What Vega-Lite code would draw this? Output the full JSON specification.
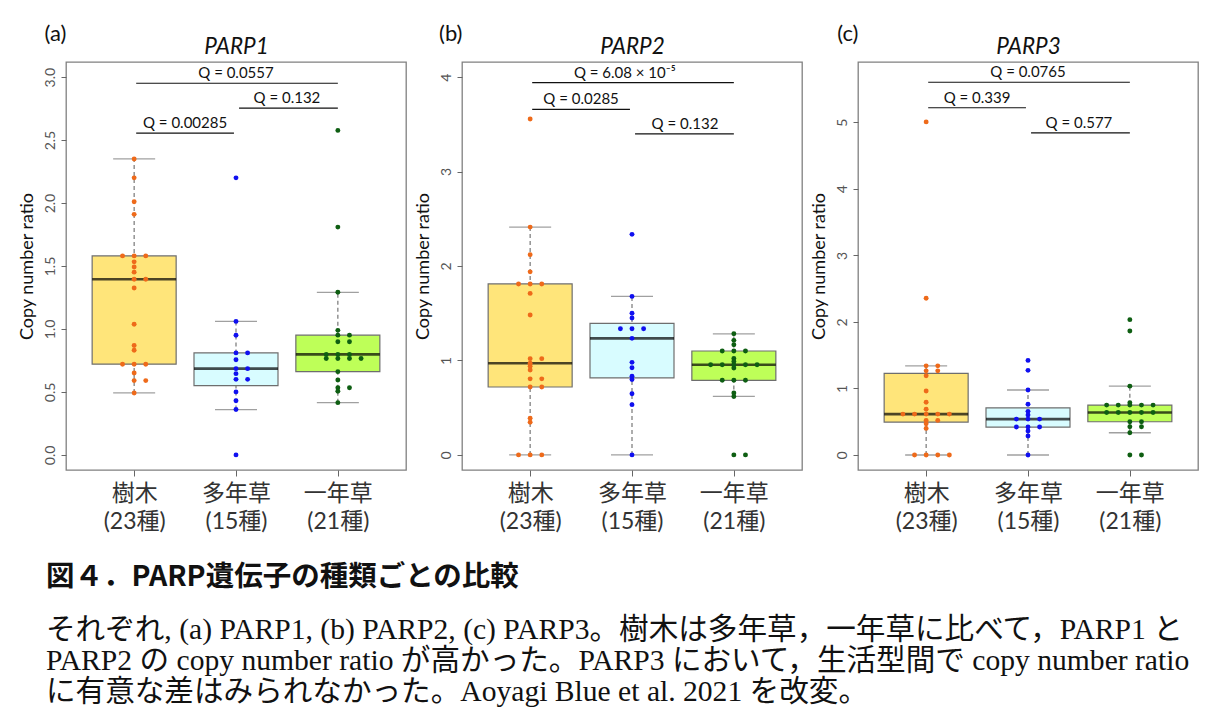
{
"$schema": "https://vega.github.io/schema/vega-lite/v6.json",
"background": "white",
"padding": {"left": 17, "top": 21, "right": 5, "bottom": 5},
"datasets": {
"pts": [
{"panel":"a","group":"樹木","gi":1,"value":2.35},{"panel":"a","group":"樹木","gi":1,"value":2.2},{"panel":"a","group":"樹木","gi":1,"value":2.01},{"panel":"a","group":"樹木","gi":1,"value":1.91},{"panel":"a","group":"樹木","gi":1,"value":1.58},{"panel":"a","group":"樹木","gi":1,"value":1.58},{"panel":"a","group":"樹木","gi":1,"value":1.58},{"panel":"a","group":"樹木","gi":1,"value":1.533},{"panel":"a","group":"樹木","gi":1,"value":1.492},{"panel":"a","group":"樹木","gi":1,"value":1.451},{"panel":"a","group":"樹木","gi":1,"value":1.395},{"panel":"a","group":"樹木","gi":1,"value":1.395},{"panel":"a","group":"樹木","gi":1,"value":1.325},{"panel":"a","group":"樹木","gi":1,"value":1.038},{"panel":"a","group":"樹木","gi":1,"value":0.869},{"panel":"a","group":"樹木","gi":1,"value":0.831},{"panel":"a","group":"樹木","gi":1,"value":0.72},{"panel":"a","group":"樹木","gi":1,"value":0.72},{"panel":"a","group":"樹木","gi":1,"value":0.72},{"panel":"a","group":"樹木","gi":1,"value":0.65},{"panel":"a","group":"樹木","gi":1,"value":0.59},{"panel":"a","group":"樹木","gi":1,"value":0.59},{"panel":"a","group":"樹木","gi":1,"value":0.492},
{"panel":"a","group":"多年草","gi":2,"value":2.2},{"panel":"a","group":"多年草","gi":2,"value":1.06},{"panel":"a","group":"多年草","gi":2,"value":0.95},{"panel":"a","group":"多年草","gi":2,"value":0.81},{"panel":"a","group":"多年草","gi":2,"value":0.81},{"panel":"a","group":"多年草","gi":2,"value":0.755},{"panel":"a","group":"多年草","gi":2,"value":0.685},{"panel":"a","group":"多年草","gi":2,"value":0.685},{"panel":"a","group":"多年草","gi":2,"value":0.645},{"panel":"a","group":"多年草","gi":2,"value":0.6},{"panel":"a","group":"多年草","gi":2,"value":0.6},{"panel":"a","group":"多年草","gi":2,"value":0.5},{"panel":"a","group":"多年草","gi":2,"value":0.43},{"panel":"a","group":"多年草","gi":2,"value":0.36},{"panel":"a","group":"多年草","gi":2,"value":0},
{"panel":"a","group":"一年草","gi":3,"value":2.577},{"panel":"a","group":"一年草","gi":3,"value":1.809},{"panel":"a","group":"一年草","gi":3,"value":1.291},{"panel":"a","group":"一年草","gi":3,"value":0.989},{"panel":"a","group":"一年草","gi":3,"value":0.951},{"panel":"a","group":"一年草","gi":3,"value":0.951},{"panel":"a","group":"一年草","gi":3,"value":0.898},{"panel":"a","group":"一年草","gi":3,"value":0.898},{"panel":"a","group":"一年草","gi":3,"value":0.798},{"panel":"a","group":"一年草","gi":3,"value":0.798},{"panel":"a","group":"一年草","gi":3,"value":0.798},{"panel":"a","group":"一年草","gi":3,"value":0.766},{"panel":"a","group":"一年草","gi":3,"value":0.766},{"panel":"a","group":"一年草","gi":3,"value":0.766},{"panel":"a","group":"一年草","gi":3,"value":0.766},{"panel":"a","group":"一年草","gi":3,"value":0.661},{"panel":"a","group":"一年草","gi":3,"value":0.595},{"panel":"a","group":"一年草","gi":3,"value":0.533},{"panel":"a","group":"一年草","gi":3,"value":0.533},{"panel":"a","group":"一年草","gi":3,"value":0.505},{"panel":"a","group":"一年草","gi":3,"value":0.415},
{"panel":"b","group":"樹木","gi":1,"value":3.556},{"panel":"b","group":"樹木","gi":1,"value":2.412},{"panel":"b","group":"樹木","gi":1,"value":2.12},{"panel":"b","group":"樹木","gi":1,"value":1.938},{"panel":"b","group":"樹木","gi":1,"value":1.81},{"panel":"b","group":"樹木","gi":1,"value":1.81},{"panel":"b","group":"樹木","gi":1,"value":1.81},{"panel":"b","group":"樹木","gi":1,"value":1.71},{"panel":"b","group":"樹木","gi":1,"value":1.481},{"panel":"b","group":"樹木","gi":1,"value":1.019},{"panel":"b","group":"樹木","gi":1,"value":1.019},{"panel":"b","group":"樹木","gi":1,"value":0.97},{"panel":"b","group":"樹木","gi":1,"value":0.938},{"panel":"b","group":"樹木","gi":1,"value":0.899},{"panel":"b","group":"樹木","gi":1,"value":0.805},{"panel":"b","group":"樹木","gi":1,"value":0.805},{"panel":"b","group":"樹木","gi":1,"value":0.719},{"panel":"b","group":"樹木","gi":1,"value":0.719},{"panel":"b","group":"樹木","gi":1,"value":0.388},{"panel":"b","group":"樹木","gi":1,"value":0.346},{"panel":"b","group":"樹木","gi":1,"value":0},{"panel":"b","group":"樹木","gi":1,"value":0},{"panel":"b","group":"樹木","gi":1,"value":0},
{"panel":"b","group":"多年草","gi":2,"value":2.335},{"panel":"b","group":"多年草","gi":2,"value":1.678},{"panel":"b","group":"多年草","gi":2,"value":1.5},{"panel":"b","group":"多年草","gi":2,"value":1.45},{"panel":"b","group":"多年草","gi":2,"value":1.335},{"panel":"b","group":"多年草","gi":2,"value":1.335},{"panel":"b","group":"多年草","gi":2,"value":1.335},{"panel":"b","group":"多年草","gi":2,"value":1.234},{"panel":"b","group":"多年草","gi":2,"value":0.98},{"panel":"b","group":"多年草","gi":2,"value":0.923},{"panel":"b","group":"多年草","gi":2,"value":0.832},{"panel":"b","group":"多年草","gi":2,"value":0.797},{"panel":"b","group":"多年草","gi":2,"value":0.648},{"panel":"b","group":"多年草","gi":2,"value":0.532},{"panel":"b","group":"多年草","gi":2,"value":0},
{"panel":"b","group":"一年草","gi":3,"value":1.282},{"panel":"b","group":"一年草","gi":3,"value":1.213},{"panel":"b","group":"一年草","gi":3,"value":1.166},{"panel":"b","group":"一年草","gi":3,"value":1.1},{"panel":"b","group":"一年草","gi":3,"value":1.1},{"panel":"b","group":"一年草","gi":3,"value":1.1},{"panel":"b","group":"一年草","gi":3,"value":1.02},{"panel":"b","group":"一年草","gi":3,"value":0.99},{"panel":"b","group":"一年草","gi":3,"value":0.955},{"panel":"b","group":"一年草","gi":3,"value":0.955},{"panel":"b","group":"一年草","gi":3,"value":0.955},{"panel":"b","group":"一年草","gi":3,"value":0.955},{"panel":"b","group":"一年草","gi":3,"value":0.955},{"panel":"b","group":"一年草","gi":3,"value":0.92},{"panel":"b","group":"一年草","gi":3,"value":0.79},{"panel":"b","group":"一年草","gi":3,"value":0.79},{"panel":"b","group":"一年草","gi":3,"value":0.79},{"panel":"b","group":"一年草","gi":3,"value":0.656},{"panel":"b","group":"一年草","gi":3,"value":0.619},{"panel":"b","group":"一年草","gi":3,"value":0},{"panel":"b","group":"一年草","gi":3,"value":0},
{"panel":"c","group":"樹木","gi":1,"value":5.005},{"panel":"c","group":"樹木","gi":1,"value":2.355},{"panel":"c","group":"樹木","gi":1,"value":1.34},{"panel":"c","group":"樹木","gi":1,"value":1.34},{"panel":"c","group":"樹木","gi":1,"value":1.265},{"panel":"c","group":"樹木","gi":1,"value":1.265},{"panel":"c","group":"樹木","gi":1,"value":1.19},{"panel":"c","group":"樹木","gi":1,"value":0.963},{"panel":"c","group":"樹木","gi":1,"value":0.792},{"panel":"c","group":"樹木","gi":1,"value":0.688},{"panel":"c","group":"樹木","gi":1,"value":0.615},{"panel":"c","group":"樹木","gi":1,"value":0.615},{"panel":"c","group":"樹木","gi":1,"value":0.615},{"panel":"c","group":"樹木","gi":1,"value":0.615},{"panel":"c","group":"樹木","gi":1,"value":0.615},{"panel":"c","group":"樹木","gi":1,"value":0.52},{"panel":"c","group":"樹木","gi":1,"value":0.52},{"panel":"c","group":"樹木","gi":1,"value":0.47},{"panel":"c","group":"樹木","gi":1,"value":0.4},{"panel":"c","group":"樹木","gi":1,"value":0},{"panel":"c","group":"樹木","gi":1,"value":0},{"panel":"c","group":"樹木","gi":1,"value":0},{"panel":"c","group":"樹木","gi":1,"value":0},
{"panel":"c","group":"多年草","gi":2,"value":1.422},{"panel":"c","group":"多年草","gi":2,"value":1.272},{"panel":"c","group":"多年草","gi":2,"value":0.977},{"panel":"c","group":"多年草","gi":2,"value":0.762},{"panel":"c","group":"多年草","gi":2,"value":0.656},{"panel":"c","group":"多年草","gi":2,"value":0.601},{"panel":"c","group":"多年草","gi":2,"value":0.54},{"panel":"c","group":"多年草","gi":2,"value":0.54},{"panel":"c","group":"多年草","gi":2,"value":0.54},{"panel":"c","group":"多年草","gi":2,"value":0.42},{"panel":"c","group":"多年草","gi":2,"value":0.42},{"panel":"c","group":"多年草","gi":2,"value":0.42},{"panel":"c","group":"多年草","gi":2,"value":0.361},{"panel":"c","group":"多年草","gi":2,"value":0.286},{"panel":"c","group":"多年草","gi":2,"value":0},
{"panel":"c","group":"一年草","gi":3,"value":2.034},{"panel":"c","group":"一年草","gi":3,"value":1.863},{"panel":"c","group":"一年草","gi":3,"value":1.035},{"panel":"c","group":"一年草","gi":3,"value":0.787},{"panel":"c","group":"一年草","gi":3,"value":0.75},{"panel":"c","group":"一年草","gi":3,"value":0.75},{"panel":"c","group":"一年草","gi":3,"value":0.75},{"panel":"c","group":"一年草","gi":3,"value":0.75},{"panel":"c","group":"一年草","gi":3,"value":0.75},{"panel":"c","group":"一年草","gi":3,"value":0.64},{"panel":"c","group":"一年草","gi":3,"value":0.64},{"panel":"c","group":"一年草","gi":3,"value":0.64},{"panel":"c","group":"一年草","gi":3,"value":0.64},{"panel":"c","group":"一年草","gi":3,"value":0.64},{"panel":"c","group":"一年草","gi":3,"value":0.5},{"panel":"c","group":"一年草","gi":3,"value":0.5},{"panel":"c","group":"一年草","gi":3,"value":0.425},{"panel":"c","group":"一年草","gi":3,"value":0.425},{"panel":"c","group":"一年草","gi":3,"value":0.335},{"panel":"c","group":"一年草","gi":3,"value":0},{"panel":"c","group":"一年草","gi":3,"value":0}
],
"q": [
{"panel":"a","x1":1.02,"x2":1.98,"y":2.555,"tx":1.5,"label":"Q = 0.00285"},
{"panel":"a","x1":2.03,"x2":3.0,"y":2.754,"tx":2.5,"label":"Q = 0.132"},
{"panel":"a","x1":1.02,"x2":3.0,"y":2.951,"tx":2.0,"label":"Q = 0.0557"},
{"panel":"b","x1":1.02,"x2":1.98,"y":3.658,"tx":1.5,"label":"Q = 0.0285"},
{"panel":"b","x1":2.03,"x2":3.0,"y":3.399,"tx":2.52,"label":"Q = 0.132"},
{"panel":"b","x1":1.02,"x2":3.0,"y":3.942,"tx":1.93,"label":"Q = 6.08 × 10⁻⁵"},
{"panel":"c","x1":1.02,"x2":1.98,"y":5.217,"tx":1.5,"label":"Q = 0.339"},
{"panel":"c","x1":2.03,"x2":3.0,"y":4.84,"tx":2.5,"label":"Q = 0.577"},
{"panel":"c","x1":1.02,"x2":3.0,"y":5.6,"tx":2.0,"label":"Q = 0.0765"}
]
},
"title": {
"text": "図４．PARP遺伝子の種類ごとの比較",
"subtitle": ["それぞれ, (a) PARP1, (b) PARP2, (c) PARP3。樹木は多年草，一年草に比べて，PARP1 と", "PARP2 の copy number ratio が高かった。PARP3 において，生活型間で copy number ratio", "に有意な差はみられなかった。Aoyagi Blue et al. 2021 を改変。"],
"orient": "bottom", "anchor": "start", "frame": "group", "dx": -20, "offset": 29,
"font": "Noto Sans CJK JP", "fontSize": 28.5, "fontWeight": "bold", "color": "#111111",
"subtitleFont": "Liberation Serif, Noto Sans CJK JP", "subtitleFontSize": 29.6, "subtitleLineHeight": 31, "subtitlePadding": 24, "subtitleColor": "#111111"
},
"spacing": 6,
"resolve": {"scale": {"x": "independent", "y": "independent"}},
"hconcat": [
{
"width": 340, "height": 408,
"resolve": {"axis": {"x": "independent"}},
"data": {"name": "pts"},
"transform": [
{"filter": "datum.panel == 'a'"},
{"joinaggregate": [{"op": "q1", "field": "value", "as": "q1"}, {"op": "q3", "field": "value", "as": "q3"}, {"op": "median", "field": "value", "as": "med"}], "groupby": ["gi"]},
{"filter": "datum.value >= datum.q1 - 1.5 * (datum.q3 - datum.q1) && datum.value <= datum.q3 + 1.5 * (datum.q3 - datum.q1)"},
{"aggregate": [{"op": "min", "field": "value", "as": "lo_w"}, {"op": "max", "field": "value", "as": "hi_w"}, {"op": "min", "field": "q1", "as": "q1"}, {"op": "min", "field": "q3", "as": "q3"}, {"op": "min", "field": "med", "as": "med"}], "groupby": ["gi", "group"]}
],
"layer": [
{"mark": {"type": "rule", "color": "#777777", "strokeWidth": 1.2, "strokeDash": [4, 3]},
"encoding": {
"x": {"field": "gi", "type": "quantitative", "scale": {"domain": [0.38, 3.62], "nice": false, "zero": false},
"axis": {"orient": "bottom", "values": [1, 2, 3], "labelExpr": "datum.value == 1 ? ['樹木', '(23種)'] : datum.value == 2 ? ['多年草', '(15種)'] : ['一年草', '(21種)']", "title": null, "labelFontSize": 23, "labelLineHeight": 28.5, "labelColor": "#333333", "labelPadding": 6, "tickSize": 6, "tickColor": "#666666", "labelAngle": 0, "labelFlush": false, "labelOverlap": false, "domain": false, "grid": false}},
"y": {"field": "lo_w", "type": "quantitative", "scale": {"domain": [-0.12, 3.12], "nice": false, "zero": false},
"axis": {"values": [0, 0.5, 1, 1.5, 2, 2.5, 3], "format": ".1f", "labelAngle": -90, "labelFontSize": 14, "labelColor": "#555555", "labelPadding": 4, "tickSize": 5, "tickColor": "#666666", "title": "Copy number ratio", "titleFontSize": 18, "titleFontWeight": "normal", "titleColor": "#111111", "titlePadding": 7, "domain": false, "grid": false, "labelFlush": false, "labelOverlap": false}},
"y2": {"field": "hi_w"}}},
{"mark": {"type": "tick", "orient": "horizontal", "size": 42, "thickness": 1.3, "color": "#777777"},
"encoding": {"x": {"field": "gi", "type": "quantitative", "axis": null}, "y": {"field": "lo_w", "type": "quantitative"}}},
{"mark": {"type": "tick", "orient": "horizontal", "size": 42, "thickness": 1.3, "color": "#777777"},
"encoding": {"x": {"field": "gi", "type": "quantitative", "axis": null}, "y": {"field": "hi_w", "type": "quantitative"}}},
{"mark": {"type": "bar", "size": 84, "stroke": "#6e6e6e", "strokeWidth": 1.2},
"encoding": {"x": {"field": "gi", "type": "quantitative", "axis": null}, "y": {"field": "q1", "type": "quantitative"}, "y2": {"field": "q3"},
"fill": {"field": "group", "type": "nominal", "scale": {"domain": ["樹木", "多年草", "一年草"], "range": ["#FFE57A", "#D8FCFF", "#BEFF58"]}, "legend": null}}},
{"mark": {"type": "tick", "orient": "horizontal", "size": 84, "thickness": 2.6, "color": "#000000"},
"encoding": {"x": {"field": "gi", "type": "quantitative", "axis": null}, "y": {"field": "med", "type": "quantitative"}}},
{"data": {"name": "pts"},
"transform": [
{"filter": "datum.panel == 'a'"},
{"window": [{"op": "row_number", "as": "r"}], "groupby": ["gi", "value"]},
{"calculate": "datum.gi + (datum.r % 2 == 0 ? datum.r / 2 : -(datum.r - 1) / 2) * 0.114", "as": "xs"}
],
"mark": {"type": "circle", "size": 24, "opacity": 1},
"encoding": {"x": {"field": "xs", "type": "quantitative", "axis": null}, "y": {"field": "value", "type": "quantitative"},
"color": {"field": "group", "type": "nominal", "scale": {"domain": ["樹木", "多年草", "一年草"], "range": ["#EE6A1A", "#1010F0", "#0E5E12"]}, "legend": null}}},
{"data": {"name": "q"},
"transform": [{"filter": "datum.panel == 'a'"}],
"mark": {"type": "rule", "color": "#111111", "strokeWidth": 1.1},
"encoding": {"x": {"field": "x1", "type": "quantitative", "axis": {"orient": "top", "labels": false, "ticks": false, "domain": false, "grid": false, "title": "PARP1", "titleFont": "Lato", "titleFontSize": 22.5, "titleFontStyle": "italic", "titleFontWeight": "normal", "titleColor": "#111111", "titlePadding": 4}},
"x2": {"field": "x2"}, "y": {"field": "y", "type": "quantitative"}}},
{"data": {"name": "q"},
"transform": [{"filter": "datum.panel == 'a'"}],
"mark": {"type": "text", "fontSize": 15, "dy": -10, "baseline": "middle", "font": "Lato", "color": "#111111"},
"encoding": {"x": {"field": "tx", "type": "quantitative", "axis": {"orient": "top", "labels": false, "ticks": false, "domain": false, "grid": false, "title": "(a)", "titleAnchor": "start", "titleAlign": "right", "titleFont": "Lato", "titleFontSize": 22, "titleFontWeight": "normal", "titleColor": "#111111", "titlePadding": 17}}, "y": {"field": "y", "type": "quantitative"}, "text": {"field": "label"}}}
]
},
{
"width": 340, "height": 408,
"resolve": {"axis": {"x": "independent"}},
"data": {"name": "pts"},
"transform": [
{"filter": "datum.panel == 'b'"},
{"joinaggregate": [{"op": "q1", "field": "value", "as": "q1"}, {"op": "q3", "field": "value", "as": "q3"}, {"op": "median", "field": "value", "as": "med"}], "groupby": ["gi"]},
{"filter": "datum.value >= datum.q1 - 1.5 * (datum.q3 - datum.q1) && datum.value <= datum.q3 + 1.5 * (datum.q3 - datum.q1)"},
{"aggregate": [{"op": "min", "field": "value", "as": "lo_w"}, {"op": "max", "field": "value", "as": "hi_w"}, {"op": "min", "field": "q1", "as": "q1"}, {"op": "min", "field": "q3", "as": "q3"}, {"op": "min", "field": "med", "as": "med"}], "groupby": ["gi", "group"]}
],
"layer": [
{"mark": {"type": "rule", "color": "#777777", "strokeWidth": 1.2, "strokeDash": [4, 3]},
"encoding": {
"x": {"field": "gi", "type": "quantitative", "scale": {"domain": [0.38, 3.62], "nice": false, "zero": false},
"axis": {"orient": "bottom", "values": [1, 2, 3], "labelExpr": "datum.value == 1 ? ['樹木', '(23種)'] : datum.value == 2 ? ['多年草', '(15種)'] : ['一年草', '(21種)']", "title": null, "labelFontSize": 23, "labelLineHeight": 28.5, "labelColor": "#333333", "labelPadding": 6, "tickSize": 6, "tickColor": "#666666", "labelAngle": 0, "labelFlush": false, "labelOverlap": false, "domain": false, "grid": false}},
"y": {"field": "lo_w", "type": "quantitative", "scale": {"domain": [-0.16, 4.16], "nice": false, "zero": false},
"axis": {"values": [0, 1, 2, 3, 4], "format": "d", "labelAngle": -90, "labelFontSize": 14, "labelColor": "#555555", "labelPadding": 4, "tickSize": 5, "tickColor": "#666666", "title": "Copy number ratio", "titleFontSize": 18, "titleFontWeight": "normal", "titleColor": "#111111", "titlePadding": 7, "domain": false, "grid": false, "labelFlush": false, "labelOverlap": false}},
"y2": {"field": "hi_w"}}},
{"mark": {"type": "tick", "orient": "horizontal", "size": 42, "thickness": 1.3, "color": "#777777"},
"encoding": {"x": {"field": "gi", "type": "quantitative", "axis": null}, "y": {"field": "lo_w", "type": "quantitative"}}},
{"mark": {"type": "tick", "orient": "horizontal", "size": 42, "thickness": 1.3, "color": "#777777"},
"encoding": {"x": {"field": "gi", "type": "quantitative", "axis": null}, "y": {"field": "hi_w", "type": "quantitative"}}},
{"mark": {"type": "bar", "size": 84, "stroke": "#6e6e6e", "strokeWidth": 1.2},
"encoding": {"x": {"field": "gi", "type": "quantitative", "axis": null}, "y": {"field": "q1", "type": "quantitative"}, "y2": {"field": "q3"},
"fill": {"field": "group", "type": "nominal", "scale": {"domain": ["樹木", "多年草", "一年草"], "range": ["#FFE57A", "#D8FCFF", "#BEFF58"]}, "legend": null}}},
{"mark": {"type": "tick", "orient": "horizontal", "size": 84, "thickness": 2.6, "color": "#000000"},
"encoding": {"x": {"field": "gi", "type": "quantitative", "axis": null}, "y": {"field": "med", "type": "quantitative"}}},
{"data": {"name": "pts"},
"transform": [
{"filter": "datum.panel == 'b'"},
{"window": [{"op": "row_number", "as": "r"}], "groupby": ["gi", "value"]},
{"calculate": "datum.gi + (datum.r % 2 == 0 ? datum.r / 2 : -(datum.r - 1) / 2) * 0.114", "as": "xs"}
],
"mark": {"type": "circle", "size": 24, "opacity": 1},
"encoding": {"x": {"field": "xs", "type": "quantitative", "axis": null}, "y": {"field": "value", "type": "quantitative"},
"color": {"field": "group", "type": "nominal", "scale": {"domain": ["樹木", "多年草", "一年草"], "range": ["#EE6A1A", "#1010F0", "#0E5E12"]}, "legend": null}}},
{"data": {"name": "q"},
"transform": [{"filter": "datum.panel == 'b'"}],
"mark": {"type": "rule", "color": "#111111", "strokeWidth": 1.1},
"encoding": {"x": {"field": "x1", "type": "quantitative", "axis": {"orient": "top", "labels": false, "ticks": false, "domain": false, "grid": false, "title": "PARP2", "titleFont": "Lato", "titleFontSize": 22.5, "titleFontStyle": "italic", "titleFontWeight": "normal", "titleColor": "#111111", "titlePadding": 4}},
"x2": {"field": "x2"}, "y": {"field": "y", "type": "quantitative"}}},
{"data": {"name": "q"},
"transform": [{"filter": "datum.panel == 'b'"}],
"mark": {"type": "text", "fontSize": 15, "dy": -10, "baseline": "middle", "font": "Lato", "color": "#111111"},
"encoding": {"x": {"field": "tx", "type": "quantitative", "axis": {"orient": "top", "labels": false, "ticks": false, "domain": false, "grid": false, "title": "(b)", "titleAnchor": "start", "titleAlign": "right", "titleFont": "Lato", "titleFontSize": 22, "titleFontWeight": "normal", "titleColor": "#111111", "titlePadding": 17}}, "y": {"field": "y", "type": "quantitative"}, "text": {"field": "label"}}}
]
},
{
"width": 340, "height": 408,
"resolve": {"axis": {"x": "independent"}},
"data": {"name": "pts"},
"transform": [
{"filter": "datum.panel == 'c'"},
{"joinaggregate": [{"op": "q1", "field": "value", "as": "q1"}, {"op": "q3", "field": "value", "as": "q3"}, {"op": "median", "field": "value", "as": "med"}], "groupby": ["gi"]},
{"filter": "datum.value >= datum.q1 - 1.5 * (datum.q3 - datum.q1) && datum.value <= datum.q3 + 1.5 * (datum.q3 - datum.q1)"},
{"aggregate": [{"op": "min", "field": "value", "as": "lo_w"}, {"op": "max", "field": "value", "as": "hi_w"}, {"op": "min", "field": "q1", "as": "q1"}, {"op": "min", "field": "q3", "as": "q3"}, {"op": "min", "field": "med", "as": "med"}], "groupby": ["gi", "group"]}
],
"layer": [
{"mark": {"type": "rule", "color": "#777777", "strokeWidth": 1.2, "strokeDash": [4, 3]},
"encoding": {
"x": {"field": "gi", "type": "quantitative", "scale": {"domain": [0.38, 3.62], "nice": false, "zero": false},
"axis": {"orient": "bottom", "values": [1, 2, 3], "labelExpr": "datum.value == 1 ? ['樹木', '(23種)'] : datum.value == 2 ? ['多年草', '(15種)'] : ['一年草', '(21種)']", "title": null, "labelFontSize": 23, "labelLineHeight": 28.5, "labelColor": "#333333", "labelPadding": 6, "tickSize": 6, "tickColor": "#666666", "labelAngle": 0, "labelFlush": false, "labelOverlap": false, "domain": false, "grid": false}},
"y": {"field": "lo_w", "type": "quantitative", "scale": {"domain": [-0.225, 5.905], "nice": false, "zero": false},
"axis": {"values": [0, 1, 2, 3, 4, 5], "format": "d", "labelAngle": -90, "labelFontSize": 14, "labelColor": "#555555", "labelPadding": 4, "tickSize": 5, "tickColor": "#666666", "title": "Copy number ratio", "titleFontSize": 18, "titleFontWeight": "normal", "titleColor": "#111111", "titlePadding": 7, "domain": false, "grid": false, "labelFlush": false, "labelOverlap": false}},
"y2": {"field": "hi_w"}}},
{"mark": {"type": "tick", "orient": "horizontal", "size": 42, "thickness": 1.3, "color": "#777777"},
"encoding": {"x": {"field": "gi", "type": "quantitative", "axis": null}, "y": {"field": "lo_w", "type": "quantitative"}}},
{"mark": {"type": "tick", "orient": "horizontal", "size": 42, "thickness": 1.3, "color": "#777777"},
"encoding": {"x": {"field": "gi", "type": "quantitative", "axis": null}, "y": {"field": "hi_w", "type": "quantitative"}}},
{"mark": {"type": "bar", "size": 84, "stroke": "#6e6e6e", "strokeWidth": 1.2},
"encoding": {"x": {"field": "gi", "type": "quantitative", "axis": null}, "y": {"field": "q1", "type": "quantitative"}, "y2": {"field": "q3"},
"fill": {"field": "group", "type": "nominal", "scale": {"domain": ["樹木", "多年草", "一年草"], "range": ["#FFE57A", "#D8FCFF", "#BEFF58"]}, "legend": null}}},
{"mark": {"type": "tick", "orient": "horizontal", "size": 84, "thickness": 2.6, "color": "#000000"},
"encoding": {"x": {"field": "gi", "type": "quantitative", "axis": null}, "y": {"field": "med", "type": "quantitative"}}},
{"data": {"name": "pts"},
"transform": [
{"filter": "datum.panel == 'c'"},
{"window": [{"op": "row_number", "as": "r"}], "groupby": ["gi", "value"]},
{"calculate": "datum.gi + (datum.r % 2 == 0 ? datum.r / 2 : -(datum.r - 1) / 2) * 0.114", "as": "xs"}
],
"mark": {"type": "circle", "size": 24, "opacity": 1},
"encoding": {"x": {"field": "xs", "type": "quantitative", "axis": null}, "y": {"field": "value", "type": "quantitative"},
"color": {"field": "group", "type": "nominal", "scale": {"domain": ["樹木", "多年草", "一年草"], "range": ["#EE6A1A", "#1010F0", "#0E5E12"]}, "legend": null}}},
{"data": {"name": "q"},
"transform": [{"filter": "datum.panel == 'c'"}],
"mark": {"type": "rule", "color": "#111111", "strokeWidth": 1.1},
"encoding": {"x": {"field": "x1", "type": "quantitative", "axis": {"orient": "top", "labels": false, "ticks": false, "domain": false, "grid": false, "title": "PARP3", "titleFont": "Lato", "titleFontSize": 22.5, "titleFontStyle": "italic", "titleFontWeight": "normal", "titleColor": "#111111", "titlePadding": 4}},
"x2": {"field": "x2"}, "y": {"field": "y", "type": "quantitative"}}},
{"data": {"name": "q"},
"transform": [{"filter": "datum.panel == 'c'"}],
"mark": {"type": "text", "fontSize": 15, "dy": -10, "baseline": "middle", "font": "Lato", "color": "#111111"},
"encoding": {"x": {"field": "tx", "type": "quantitative", "axis": {"orient": "top", "labels": false, "ticks": false, "domain": false, "grid": false, "title": "(c)", "titleAnchor": "start", "titleAlign": "right", "titleFont": "Lato", "titleFontSize": 22, "titleFontWeight": "normal", "titleColor": "#111111", "titlePadding": 17}}, "y": {"field": "y", "type": "quantitative"}, "text": {"field": "label"}}}
]
}
],
"config": {
"view": {"stroke": "#808080", "strokeWidth": 1.3},
"font": "Lato",
"axis": {"labelFont": "Lato, Noto Sans CJK JP", "titleFont": "Lato"}
}
}
